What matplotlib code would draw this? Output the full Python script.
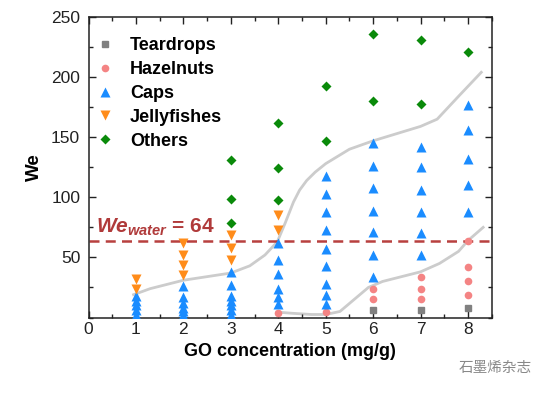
import matplotlib
matplotlib.use("Agg")
import matplotlib.pyplot as plt
from matplotlib.ticker import MultipleLocator

# ---- data ----
teardrops_x = [6, 7, 8]
teardrops_y = [6, 6, 7.5]

hazelnuts_x = [4, 5, 6, 6, 7, 7, 7, 8, 8, 8, 8]
hazelnuts_y = [4, 4.5, 24, 15, 34, 24, 15, 64, 42, 30, 18.5]

caps_x = ([1] * 5 + [2] * 6 + [3] * 7 + [4] * 6 + [5] * 9 + [6] * 7 + [7] * 6 + [8] * 5)
caps_y = ([18, 14, 10, 6, 2] +
          [26, 17, 12, 8, 5, 2] +
          [38, 27, 18, 14, 10, 6, 2] +
          [62, 48, 36, 24, 17, 11] +
          [118, 103, 88, 73, 57, 43, 28, 19, 11] +
          [145, 126, 108, 89, 71, 52, 34] +
          [142, 125, 106, 88, 70, 52] +
          [177, 156, 132, 110, 88])

jelly_x = [1, 1, 2, 2, 2, 2, 3, 3, 3, 4, 4]
jelly_y = [32, 24, 62, 52, 44, 35, 69, 58, 48, 85, 73]

others_x = [3, 3, 3, 4, 4, 4, 5, 5, 6, 6, 7, 7, 8]
others_y = [131, 99, 79, 162, 124, 98, 193, 147, 236, 180, 231, 178, 221]

upper_x = [0.95, 1.3, 1.7, 2.0, 2.5, 3.0, 3.4, 3.72, 3.98, 4.15, 4.32, 4.45, 4.6, 4.78,
           5.0, 5.5, 6.0, 6.5, 7.0, 7.35, 7.8, 8.28]
upper_y = [19, 24, 28, 31, 34, 37, 43, 52, 63, 79, 96, 106, 114, 121,
           128, 140, 147, 153, 159, 165, 184, 204]

lower_x = [3.97, 4.3, 4.7, 5.0, 5.3, 5.6, 5.9, 6.2, 6.6, 7.0, 7.4, 7.8, 8.0, 8.32]
lower_y = [4.5, 3.5, 2.5, 2.5, 5, 15, 25, 30, 34, 38, 45, 55, 64, 75]

we_water = 64
x_ticks = [0, 1, 2, 3, 4, 5, 6, 7, 8]
y_ticks = [50, 100, 150, 200, 250]

# ---- plot ----
plt.rcParams['font.family'] = ['Liberation Sans', 'DejaVu Sans']
plt.rcParams['mathtext.fontset'] = 'custom'
plt.rcParams['mathtext.it'] = 'Liberation Sans:italic:bold'
plt.rcParams['mathtext.rm'] = 'Liberation Sans:bold'

fig = plt.figure(figsize=(5.41, 3.93), dpi=100)
ax = fig.add_axes([0.1636, 0.1921, 0.7453, 0.7646])

curve_color = '#cccccc'
ax.plot(upper_x, upper_y, color=curve_color, lw=2, zorder=1)
ax.plot(lower_x, lower_y, color=curve_color, lw=2, zorder=1)

ax.axhline(we_water, color='#b8403f', lw=1.8, ls=(0, (4, 2.5)), zorder=2)

ax.plot(teardrops_x, teardrops_y, 's', color='#808080', ms=5, ls='none', label='Teardrops', zorder=3)
ax.plot(hazelnuts_x, hazelnuts_y, 'o', color='#f48484', ms=5.5, mec='none', ls='none', label='Hazelnuts', zorder=3)
ax.plot(caps_x, caps_y, '^', color='#1a8cff', ms=7.5, mec='none', ls='none', label='Caps', zorder=3)
ax.plot(jelly_x, jelly_y, 'v', color='#ff8c1a', ms=7.5, mec='none', ls='none', label='Jellyfishes', zorder=3)
ax.plot(others_x, others_y, 'D', color='#0a8a0a', ms=5.5, mec='none', ls='none', label='Others', zorder=3)

ax.text(0.15, 66, r'$\mathit{We}_{\mathit{water}}$' + ' = 64', color='#b03a3a',
        fontsize=15, fontweight='bold', va='bottom', ha='left')

ax.set_xlim(0, 8.5)
ax.set_ylim(0, 250)
ax.set_xticks(x_ticks)
ax.set_yticks(y_ticks)
ax.xaxis.set_minor_locator(MultipleLocator(0.5))
ax.yaxis.set_minor_locator(MultipleLocator(25))
ax.tick_params(which='both', direction='in', top=True, right=True, labelsize=12.5,
               labelcolor='#222222', color='#222222')
ax.tick_params(axis='y', which='major', pad=6)
ax.tick_params(which='major', length=5, width=1)
ax.tick_params(which='minor', length=3, width=1)
for s in ax.spines.values():
    s.set_linewidth(1.1)
    s.set_color('#222222')

ax.set_xlabel('GO concentration (mg/g)', fontsize=13, fontweight='bold', labelpad=4)
ax.set_ylabel('We', fontsize=13.5, fontweight='bold', labelpad=6)

leg = ax.legend(loc='upper left', frameon=False, fontsize=13, handletextpad=0.8,
                labelspacing=0.38, borderaxespad=0.3, handlelength=1.2,
                bbox_to_anchor=(-0.018, 0.975))
for t in leg.get_texts():
    t.set_fontweight('bold')

fig.text(0.848, 0.063, '石墨烯杂志', fontsize=10.5, color='#888888',
         family=['Noto Sans CJK SC', 'DejaVu Sans'], ha='left', va='center')

fig.savefig('out.png', dpi=100)
